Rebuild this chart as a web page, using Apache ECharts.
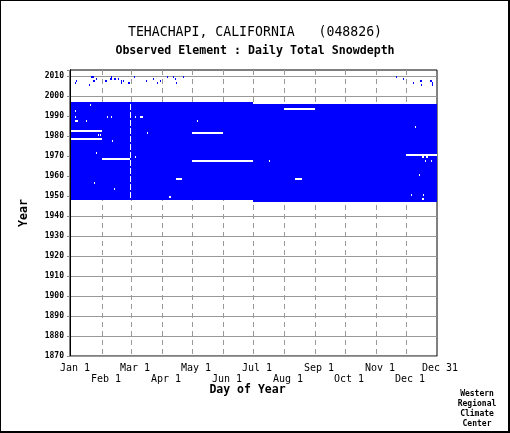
<!DOCTYPE html>
<html>
<head>
<meta charset="utf-8">
<script src="https://cdn.jsdelivr.net/npm/echarts@6/dist/echarts.min.js"></script>
<style>
  html, body { margin: 0; padding: 0; background: #fff; }
  #chart { position: absolute; left: 0; top: 0; width: 510px; height: 433px; }
  #frame { position: absolute; left: 0; top: 0; width: 510px; height: 433px; box-sizing: border-box;
           border: 1px solid #000; border-right-width: 2px; border-bottom-width: 2px; pointer-events: none; }
</style>
</head>
<body>
<div id="chart"></div>
<div id="frame"></div>
<script>
// day-of-year axis on a 366-day calendar (Feb 29 = day 60)
const monthTicks = [1, 32, 61, 92, 122, 153, 183, 214, 245, 275, 306, 336, 366];
const monthLabels = ['Jan 1', 'Feb 1', 'Mar 1', 'Apr 1', 'May 1', 'Jun 1', 'Jul 1',
  'Aug 1', 'Sep 1', 'Oct 1', 'Nov 1', 'Dec 1', 'Dec 31'];

// continuous record: [firstDay, lastDay, firstYear, lastYear]
const recordBlocks = [
  [1, 182, 1948, 1996],
  [183, 366, 1947, 1995],
];
// years with a Feb 29 value
const feb29Years = [1948, 1952, 1956, 1960, 1964, 1968, 1972, 1976, 1980, 1984, 1988, 1992, 1996];
// missing days inside the record: [year, firstDay, lastDay]
const missingRuns = [
  [1995, 20, 20], [1992, 5, 5], [1989, 5, 5], [1987, 5, 7], [1987, 16, 16],
  [1989, 37, 37], [1989, 41, 41], [1982, 1, 31], [1980, 28, 28], [1980, 30, 30],
  [1978, 1, 31], [1977, 42, 42], [1971, 26, 26], [1968, 32, 59], [1956, 24, 24],
  [1953, 44, 44], [1989, 65, 65], [1989, 70, 72], [1969, 65, 65], [1981, 77, 77],
  [1987, 127, 127], [1981, 122, 152], [1967, 122, 182], [1967, 199, 199],
  [1958, 106, 111], [1949, 99, 100], [1993, 214, 244], [1984, 345, 345],
  [1970, 336, 366], [1969, 352, 353], [1969, 356, 357], [1967, 355, 355],
  [1967, 361, 361], [1958, 225, 231], [1960, 349, 349], [1950, 341, 341],
  [1950, 353, 353], [1948, 352, 353],
];
// scattered later reports: [day, year]
const lateReports = [
  [5, 2006], [6, 2007], [19, 2005], [21, 2009], [22, 2009], [23, 2009], [23, 2007],
  [24, 2007], [26, 2008], [35, 2007], [36, 2007], [40, 2008], [41, 2008], [41, 2009],
  [44, 2008], [45, 2008], [48, 2008], [51, 2006], [51, 2007], [53, 2007], [58, 2006],
  [59, 2006], [64, 2009], [76, 2007], [83, 2008], [87, 2006], [90, 2007], [97, 2009],
  [103, 2009], [105, 2008], [106, 2006], [113, 2009], [326, 2009], [333, 2008],
  [343, 2006], [350, 2007], [351, 2007], [351, 2005], [360, 2007], [361, 2007],
  [362, 2006], [362, 2005],
];

const yearMin = 1870;
const yearMax = 2013;
const FONT = 'DejaVu Sans Mono';

// cells: [x0, x1, y0, y1, white?]
const cells = [];
recordBlocks.forEach(([d0, d1, y0, y1]) => cells.push([d0, d1 + 1, y0, y1 + 1, 0]));
const leapBlock = recordBlocks[0];
for (let y = leapBlock[2]; y <= leapBlock[3]; y++) {
  if (feb29Years.indexOf(y) < 0) cells.push([60, 61, y, y + 1, 1]);
}
missingRuns.forEach(([y, d0, d1]) => cells.push([d0, d1 + 1, y, y + 1, 1]));
lateReports.forEach(([d, y]) => cells.push([d, d + 1, y, y + 1, 0]));

// month labels alternate between two rows
const upperTicks = monthTicks.filter((d, i) => i % 2 === 0);
const lowerTicks = monthTicks.filter((d, i) => i % 2 === 1);
const labelFor = (v) => {
  const i = monthTicks.indexOf(v);
  return i < 0 ? '' : monthLabels[i];
};
const monthLabel = (values, margin) => ({
  customValues: values,
  showMinLabel: true,
  showMaxLabel: true,
  hideOverlap: false,
  margin: margin,
  padding: [0, 0, 0, 8],
  fontFamily: FONT, fontSize: 10, color: '#000',
  formatter: labelFor,
});

const chart = echarts.init(document.getElementById('chart'), null, { renderer: 'canvas' });

const option = {
  animation: false,
  backgroundColor: '#fff',
  title: [
    {
      text: 'TEHACHAPI, CALIFORNIA   (048826)',
      left: 'center', top: 21,
      textStyle: { fontFamily: FONT, fontSize: 13.2, fontWeight: 'normal', color: '#000' },
    },
    {
      text: 'Observed Element : Daily Total Snowdepth',
      left: 'center', top: 40,
      textStyle: { fontFamily: FONT, fontSize: 11.6, fontWeight: 'bold', color: '#000' },
    },
  ],
  grid: { left: 70, right: 73, top: 70, bottom: 77, show: true, borderColor: '#000', borderWidth: 1 },
  xAxis: [
    {
      type: 'value', min: 0, max: 367, position: 'bottom',
      name: 'Day of Year', nameLocation: 'middle', nameGap: 28,
      nameTextStyle: { fontFamily: FONT, fontSize: 11.5, fontWeight: 'bold', color: '#000', padding: [0, 12, 0, 0] },
      axisLine: { show: true, lineStyle: { color: '#999', width: 1 } },
      axisTick: { show: false },
      splitLine: { show: false },
      axisLabel: monthLabel(upperTicks, 7),
    },
    {
      type: 'value', min: 0, max: 367, position: 'bottom', offset: 0,
      axisLine: { show: false },
      axisTick: { show: false },
      splitLine: { show: false },
      axisLabel: monthLabel(lowerTicks, 18),
    },
  ],
  yAxis: [
    {
      type: 'value', min: yearMin, max: yearMax, interval: 10,
      name: 'Year', nameLocation: 'middle', nameGap: 40,
      nameTextStyle: { fontFamily: FONT, fontSize: 11.6, fontWeight: 'bold', color: '#000' },
      axisLine: { show: true, lineStyle: { color: '#000', width: 1 } },
      axisTick: { show: true, length: 3, lineStyle: { color: '#888' } },
      axisLabel: {
        margin: 6, fontFamily: FONT, fontSize: 8, fontWeight: 'bold', color: '#000',
        formatter: (v) => (v % 10 === 0 ? String(v) : ''),
      },
      splitLine: { show: true, showMaxLine: false, lineStyle: { color: '#999', width: 1 } },
    },
    {
      type: 'value', min: yearMin, max: yearMax, position: 'right',
      axisLine: { show: true, lineStyle: { color: '#000', width: 1 } },
      axisTick: { show: false }, axisLabel: { show: false }, splitLine: { show: false },
    },
  ],
  graphic: [
    {
      type: 'text', x: 477, y: 389,
      style: {
        text: 'Western\nRegional\nClimate\nCenter',
        align: 'center', verticalAlign: 'top',
        fontFamily: FONT, fontSize: 8, fontWeight: 'bold', lineHeight: 10, fill: '#000',
      },
    },
  ],
  series: [
    {
      // dashed month grid lines (Jan 1 / Dec 31 sit on the frame)
      type: 'custom', z: 1, silent: true,
      encode: { x: 0, y: 1 },
      data: monthTicks.slice(1, -1).map((d) => [d, yearMin]),
      renderItem: (params, api) => {
        const x = Math.round(api.coord([api.value(0), yearMin])[0]) + 0.5;
        const yb = api.coord([0, yearMin])[1];
        const yt = api.coord([0, yearMax])[1];
        return {
          type: 'line',
          shape: { x1: x, y1: yt, x2: x, y2: yb },
          style: { stroke: '#999', lineWidth: 1, lineDash: [5, 4] },
        };
      },
    },
    {
      type: 'custom', z: 3, silent: true,
      encode: { x: [0, 1], y: [2, 3] },
      data: cells,
      renderItem: (params, api) => {
        const a = api.coord([api.value(0), api.value(3)]);
        const b = api.coord([api.value(1), api.value(2)]);
        const x = Math.round(a[0]);
        const y = Math.round(a[1]);
        return {
          type: 'rect',
          shape: { x: x, y: y, width: Math.round(b[0]) - x, height: Math.round(b[1]) - y },
          style: { fill: api.value(4) ? '#fff' : '#0000ff' },
        };
      },
    },
  ],
};

chart.setOption(option);
</script>
</body>
</html>
